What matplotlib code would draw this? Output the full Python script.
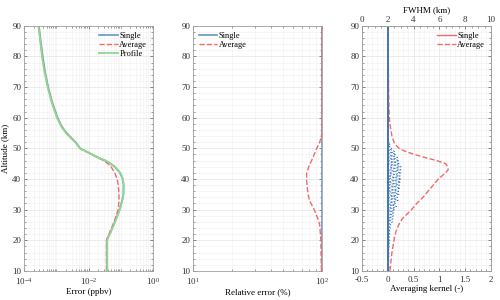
import numpy as np
import matplotlib
matplotlib.use("Agg")
import matplotlib.pyplot as plt
from matplotlib.lines import Line2D
from matplotlib.ticker import MultipleLocator, LogLocator, NullFormatter

plt.rcParams["font.family"] = ["Liberation Serif", "DejaVu Serif"]
plt.rcParams["mathtext.fontset"] = "stix"
plt.rcParams["font.size"] = 6.5

# panel 1: absolute error profiles (ppbv)
err_alt = [10, 15, 20, 21, 22, 25, 28, 30, 33, 35, 38, 40, 42, 44, 45, 46, 47, 48, 49,
           50, 51, 52, 53, 55, 57, 60, 65, 70, 75, 80, 85, 90]
err_single = [0.037, 0.037, 0.037, 0.040, 0.045, 0.060, 0.078, 0.092, 0.110, 0.120, 0.122,
              0.115, 0.095, 0.065, 0.048, 0.033, 0.020, 0.013, 0.0085, 0.0055, 0.0047,
              0.0040, 0.0032, 0.0021, 0.0015, 0.0011, 0.00075, 0.00056, 0.00045, 0.00038,
              0.00033, 0.00029]
err_average = [0.036, 0.036, 0.036, 0.039, 0.043, 0.057, 0.072, 0.083, 0.088, 0.088, 0.084,
               0.077, 0.065, 0.050, 0.040, 0.030, 0.019, 0.0125, 0.0083, 0.0054, 0.0046,
               0.0039, 0.0032, 0.0021, 0.0015, 0.00108, 0.00074, 0.00055, 0.00044, 0.00037,
               0.00032, 0.00028]
err_profile = [0.038, 0.038, 0.038, 0.041, 0.046, 0.061, 0.079, 0.094, 0.112, 0.122, 0.124,
               0.117, 0.097, 0.066, 0.049, 0.034, 0.020, 0.013, 0.0084, 0.0054, 0.0046,
               0.0039, 0.0031, 0.0020, 0.00145, 0.00105, 0.00072, 0.00054, 0.00043, 0.00036,
               0.00032, 0.00028]

# panel 2: relative error (%)
rel_alt = [10, 15, 20, 25, 27, 30, 33, 35, 38, 40, 42, 44, 46, 48, 50, 52, 54, 56, 60, 90]
rel_single = [100] * len(rel_alt)
rel_average = [99, 98.5, 98, 96, 93, 87, 80, 78, 76.5, 76, 76, 79, 83, 87, 91, 96, 99,
               100, 100, 100]

# panel 3: averaging kernels
ak_alt = [10, 13, 16, 19, 21, 23, 25, 27, 30, 32, 34, 36, 38, 40, 42, 43, 44, 45, 46, 47,
          48, 49, 50, 51, 52, 54, 56, 58, 60, 65, 70, 80, 90]
ak_average = [0.04, 0.06, 0.08, 0.11, 0.13, 0.16, 0.21, 0.28, 0.46, 0.56, 0.68, 0.78, 0.88,
              0.98, 1.12, 1.17, 1.16, 1.12, 0.95, 0.72, 0.52, 0.34, 0.22, 0.16, 0.12, 0.08,
              0.06, 0.04, 0.03, 0.02, 0.015, 0.01, 0.01]
# diagonal value of each single kernel row, one per km from 10 to 90
grid_alt = list(range(10, 91))
ak_diag = [0.02, 0.03, 0.02, 0.03, 0.02, 0.03, 0.03, 0.02, 0.03, 0.03, 0.04, 0.03, 0.04,
           0.04, 0.05, 0.06, 0.09, 0.10, 0.11, 0.12, 0.14, 0.17, 0.16, 0.20, 0.19, 0.22,
           0.21, 0.24, 0.23, 0.25, 0.26, 0.24, 0.26, 0.25, 0.26, 0.23, 0.22, 0.19, 0.16,
           0.13, 0.08, 0.05, 0.03] + [0.01] * 38
fwhm_single = [2.0] * len(grid_alt)

C_BLUE = "#6f9fd0"
C_RED = "#f06a6a"
C_GREEN = "#8fd88f"
C_KER = "#3f78b4"
C_SPINE = "#a0a0a0"

fig = plt.figure(figsize=(5, 3), dpi=100)
w, h, b = 0.258, 0.817, 0.097
ax1 = fig.add_axes([0.048, b, w, h])
ax2 = fig.add_axes([0.386, b, w, h])
ax3 = fig.add_axes([0.724, b, w, h])


def style(ax):
    ax.set_ylim(10, 90)
    ax.yaxis.set_major_locator(MultipleLocator(10))
    ax.yaxis.set_minor_locator(MultipleLocator(2))
    ax.grid(True, which="major", color="#e4e4e4", lw=0.5)
    ax.grid(True, which="minor", color="#f0f0f0", lw=0.4)
    ax.set_axisbelow(True)
    ax.tick_params(which="both", direction="in", top=True, right=True, colors="#555555",
                   labelcolor="#333333", labelsize=6.5, pad=2)
    ax.tick_params(axis="x", pad=3.5)
    ax.tick_params(which="major", length=2.5, width=0.5)
    ax.tick_params(which="minor", length=1.3, width=0.4)
    for s in ax.spines.values():
        s.set_color(C_SPINE)
        s.set_linewidth(0.6)


# Error
ax1.plot(err_single, err_alt, color=C_BLUE, lw=1.3, label="Single")
ax1.plot(err_average, err_alt, color=C_RED, lw=1.0, ls="--", label="Average")
ax1.plot(err_profile, err_alt, color=C_GREEN, lw=1.3, label="Profile")
ax1.set_xscale("log")
ax1.set_xlim(1e-4, 1)
ax1.xaxis.set_major_locator(LogLocator(base=100))
ax1.xaxis.set_minor_locator(LogLocator(base=10, subs=np.arange(1, 10)))
ax1.xaxis.set_minor_formatter(NullFormatter())
style(ax1)
ax1.set_xlabel("Error (ppbv)", labelpad=1)
ax1.set_ylabel("Altitude (km)", labelpad=2)
ax1.legend(loc="upper right", frameon=False, fontsize=6, handlelength=2.2,
           handletextpad=0.2, labelspacing=0.15, borderaxespad=0.3)

# Relative error
ax2.plot(rel_single, rel_alt, color=C_BLUE, lw=1.3, label="Single")
ax2.plot(rel_average, rel_alt, color=C_RED, lw=1.0, ls="--", label="Average")
ax2.set_xscale("log")
ax2.set_xlim(10, 100)
ax2.xaxis.set_major_locator(LogLocator(base=10))
ax2.xaxis.set_minor_locator(LogLocator(base=10, subs=np.arange(2, 10)))
ax2.xaxis.set_minor_formatter(NullFormatter())
style(ax2)
ax2.set_xlabel("Relative error (%)", labelpad=1)
ax2.legend(loc="upper left", frameon=False, fontsize=6, handlelength=2.2,
           handletextpad=0.2, labelspacing=0.15, borderaxespad=0.3)

# Averaging kernels
kernel = np.diag(ak_diag)
for row in kernel:
    ax3.plot(row, grid_alt, color=C_KER, lw=0.6, ls=(0, (2.5, 1.5)))
ax3.plot(ak_average, ak_alt, color=C_RED, lw=1.0, ls="--")
ax3.set_xlim(-0.5, 2)
ax3.xaxis.set_major_locator(MultipleLocator(0.5))
ax3.xaxis.set_minor_locator(MultipleLocator(0.1))
style(ax3)
ax3.set_xticks([-0.5, 0, 0.5, 1, 1.5, 2])
ax3.set_xticklabels(["-0.5", "0", "0.5", "1", "1.5", "2"])
ax3.tick_params(top=False)
ax3.set_xlabel("Averaging kernel (-)", labelpad=1)

ax3t = ax3.twiny()
ax3t.plot(fwhm_single, grid_alt, color=C_KER, lw=1.2)
ax3t.set_xlim(0, 10)
ax3t.xaxis.set_major_locator(MultipleLocator(2))
ax3t.xaxis.set_minor_locator(MultipleLocator(0.5))
ax3t.tick_params(which="both", direction="in", colors="#555555", labelcolor="#333333",
                 labelsize=6.5, pad=1)
ax3t.tick_params(which="major", length=2.5, width=0.5)
ax3t.tick_params(which="minor", length=1.3, width=0.4)
for s in ax3t.spines.values():
    s.set_color(C_SPINE)
    s.set_linewidth(0.6)
ax3t.set_xlabel("FWHM (km)", labelpad=3)
handles = [Line2D([], [], color=C_RED, lw=1.0), Line2D([], [], color=C_RED, lw=1.0, ls="--")]
ax3t.legend(handles, ["Single", "Average"], loc="upper right", frameon=False, fontsize=6,
            handlelength=2.2, handletextpad=0.2, labelspacing=0.15, borderaxespad=0.3)

fig.savefig("out.png", dpi=100)
